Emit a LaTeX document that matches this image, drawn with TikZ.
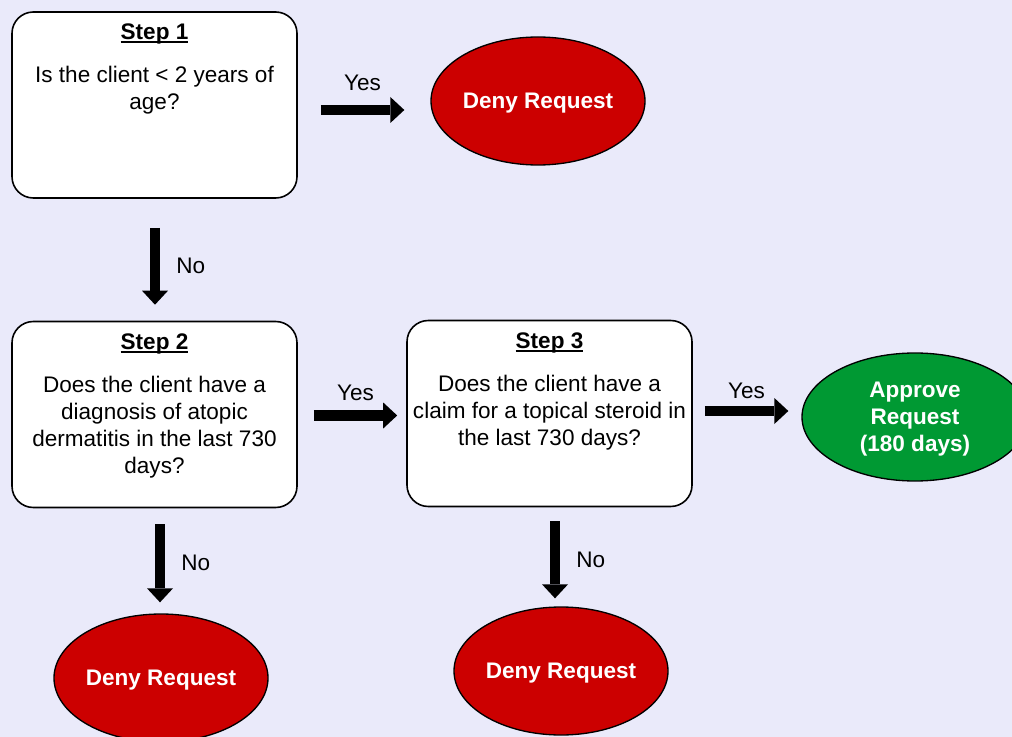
\documentclass[tikz,border=0pt]{standalone}
\usepackage{fontspec}
\setmainfont{Liberation Sans}
\usetikzlibrary{arrows.meta,shapes.geometric,calc}

\definecolor{bgcolor}{RGB}{234,234,250}
\definecolor{denyred}{RGB}{204,0,0}
\definecolor{okgreen}{RGB}{0,153,51}

\newcommand{\ulstep}[1]{\setbox0\hbox{#1}\rlap{\rule[-2.5pt]{\wd0}{1.2pt}}\box0}

\begin{document}
\begin{tikzpicture}[x=0.75pt,y=-0.75pt,auto,
    font=\fontsize{16.9}{20.4}\selectfont,
    stepbox/.style={draw, fill=white, rounded corners=16pt, line width=1.2pt,
                    minimum width=213.75pt, minimum height=139.5pt, inner sep=0pt},
    steptitle/.style={font=\fontsize{16.9}{20.4}\selectfont\bfseries, anchor=base, inner sep=0pt},
    question/.style={align=center, anchor=north, inner sep=0pt},
    result/.style={ellipse, draw, line width=1pt, minimum width=160.5pt, minimum height=96pt,
                   inner sep=0pt, text depth=0pt, align=center, text=white,
                   font=\fontsize{16.9}{20.4}\selectfont\bfseries},
    blockarrow/.style={line width=7.9pt, -{Triangle[width=19.5pt,length=10.5pt,line width=0pt]}},
    answer/.style={inner xsep=12pt, inner ysep=10.5pt}]
  \useasboundingbox (0,0) rectangle (1012,737);
  \fill[bgcolor] (0,0) rectangle (1012,737);
  \clip (0,0) rectangle (1012,737);

  % steps
  \node (s1) [stepbox] at (154.5,105)   {};
  \node (s2) [stepbox] at (154.5,414.5) {};
  \node (s3) [stepbox] at (549.5,413.5) {};

  \node (t1) [steptitle] at ($(s1.north)+(0,28.5)$) {\ulstep{Step 1}};
  \node (t2) [steptitle] at ($(s2.north)+(0,28.5)$) {\ulstep{Step 2}};
  \node (t3) [steptitle] at ($(s3.north)+(0,28.5)$) {\ulstep{Step 3}};

  \node (q1) [question] at ($(s1.north)+(0,55)$) {Is the client < 2 years of\\age?};
  \node (q2) [question] at ($(s2.north)+(0,55)$) {Does the client have a\\diagnosis of atopic\\dermatitis in the last 730\\days?};
  \node (q3) [question] at ($(s3.north)+(0,55)$) {Does the client have a\\claim for a topical steroid in\\the last 730 days?};

  % outcomes
  \node (d1) [result, fill=denyred] at (538,101) {Deny Request};
  \node (d2) [result, fill=denyred] at (161,678) {Deny Request};
  \node (d3) [result, fill=denyred] at (561,671) {Deny Request};
  \node (ap) [result, fill=okgreen, minimum width=169.5pt] at (915,417) {Approve\\Request\\(180 days)};

  % answers
  \path ($(s1.east)+(23,5)$)    edge[blockarrow] node[answer] {Yes} ($(d1.west)+(-26,9)$)
        ($(s1.south)+(0.5,29)$) edge[blockarrow] node[answer] {No}  ($(s2.north)+(0.5,-16)$)
        ($(s2.east)+(16,1)$)    edge[blockarrow] node[answer, yshift=-3pt] {Yes} ($(s3.west)+(-9,2)$)
        ($(s3.east)+(12,-2.5)$) edge[blockarrow] node[answer, yshift=-5pt] {Yes} ($(ap.west)+(-13,-6)$)
        ($(s2.south)+(5.5,16)$) edge[blockarrow] node[answer] {No}  ($(d2.north)+(-1,-11)$)
        ($(s3.south)+(5.5,14)$) edge[blockarrow] node[answer] {No}  ($(d3.north)+(-6,-8)$);
\end{tikzpicture}
\end{document}
